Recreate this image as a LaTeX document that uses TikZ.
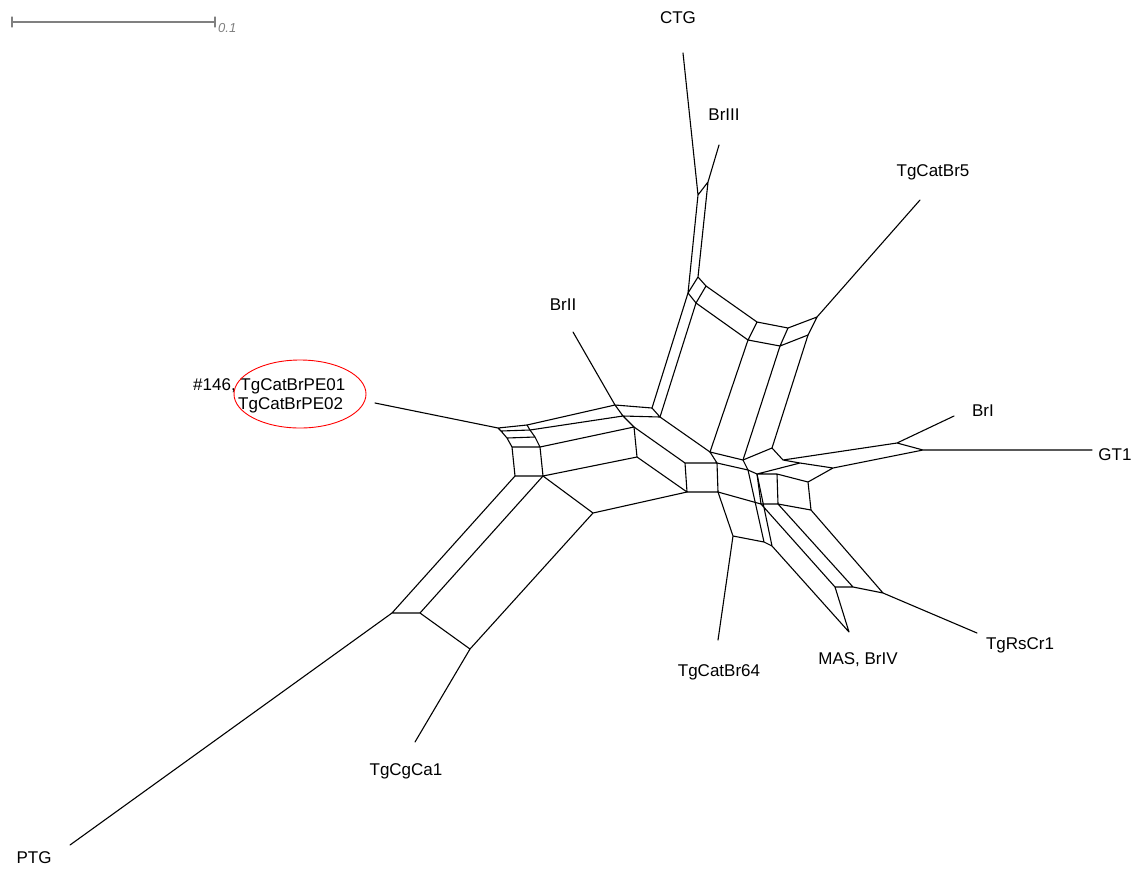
\documentclass[tikz,border=0pt]{standalone}
\usepackage{fontspec}
\setmainfont{Liberation Sans}
\tikzset{
  split/.style={line width=1.1pt, black},
  taxon/.style={inner sep=0pt, font=\fontsize{17}{19}\selectfont}
}
\begin{document}
\begin{tikzpicture}[x=1pt, y=-1pt, line join=round, line cap=round]
  \useasboundingbox (0,0) rectangle (1147,868);

  % scale bar
  \coordinate (s0) at (12,22);
  \coordinate (s1) at (215,22);
  \draw[gray, line width=1.3pt] (s0) -- (s1) ([yshift=-5pt]s0) -- ([yshift=5pt]s0) ([yshift=-5pt]s1) -- ([yshift=5pt]s1);
  \node[anchor=west, inner sep=0pt, gray, font=\fontsize{13}{14}\selectfont\itshape] (bar) at (218,28) {0.1};

  % leaves
  \coordinate (PTG) at (70,845);
  \coordinate (CgCa) at (415,742);
  \coordinate (Br64) at (718,640);
  \coordinate (MAS) at (849,632);
  \coordinate (RsCr) at (977,633);
  \coordinate (GT) at (1092,450);
  \coordinate (BrI) at (954,416);
  \coordinate (Br5) at (920,200);
  \coordinate (CTG) at (683,53);
  \coordinate (BrIII) at (719,145);
  \coordinate (BrII) at (573,332);
  \coordinate (PE) at (375,403);

  % left box
  \coordinate (L0) at (498,428);
  \coordinate (L0b) at (501,431);
  \coordinate (L1) at (507,438);
  \coordinate (L2) at (512,447);
  \coordinate (L3) at (515,476);
  \coordinate (R0) at (527,425);
  \coordinate (R0b) at (530,430);
  \coordinate (R1) at (535,437);
  \coordinate (R2) at (540,447);
  \coordinate (R3) at (543,476);

  % lower left
  \coordinate (Q1) at (392,613);
  \coordinate (Q2) at (420,613);
  \coordinate (Q3) at (470,649);
  \coordinate (Q4) at (593,513);

  % centre
  \coordinate (M0) at (615,405);
  \coordinate (M1) at (623,416);
  \coordinate (M2) at (634,427);
  \coordinate (M3) at (637,457);
  \coordinate (N0) at (652,408);
  \coordinate (N1) at (660,417);

  % top
  \coordinate (S1) at (698,195);
  \coordinate (S2) at (708,182);
  \coordinate (T1) at (698,277);
  \coordinate (T2) at (706,286);
  \coordinate (B1) at (688,293);
  \coordinate (B2) at (696,303);
  \coordinate (U1) at (757,322);
  \coordinate (U2) at (788,328);
  \coordinate (U3) at (817,317);
  \coordinate (V1) at (748,340);
  \coordinate (V2) at (780,346);
  \coordinate (V3) at (808,335);

  % middle right
  \coordinate (K1) at (685,463);
  \coordinate (K2) at (717,463);
  \coordinate (K3) at (687,492);
  \coordinate (K4) at (718,492);
  \coordinate (D1) at (710,452);
  \coordinate (W1) at (743,460);
  \coordinate (W2) at (772,448);
  \coordinate (W3) at (783,460);
  \coordinate (X1) at (748,470);
  \coordinate (G1) at (757,474);
  \coordinate (G2) at (777,474);
  \coordinate (G3) at (761,504);
  \coordinate (G4) at (778,504);
  \coordinate (H1) at (808,482);
  \coordinate (H2) at (811,510);
  \coordinate (Y1) at (800,463);
  \coordinate (Y2) at (833,468);
  \coordinate (J1) at (897,443);
  \coordinate (J2) at (923,450);

  % lower right
  \coordinate (F1) at (733,536);
  \coordinate (F2) at (764,542);
  \coordinate (F3) at (772,546);
  \coordinate (Z1) at (835,587);
  \coordinate (Z2) at (853,587);
  \coordinate (Z3) at (883,593);

  \draw[split] (PE) -- (L0) -- (L0b) -- (L1) -- (L2) -- (L3)
    (R0) -- (R0b) -- (R1) -- (R2) -- (R3)
    (L0) -- (R0) (L0b) -- (R0b) (L1) -- (R1) (L2) -- (R2) (L3) -- (R3);
  \draw[split] (R0) -- (M0) (R0b) -- (M1) (R2) -- (M2) (R3) -- (M3)
    (BrII) -- (M0) -- (M1) -- (M2) -- (M3)
    (M0) -- (N0) -- (N1) -- (M1);
  \draw[split] (PTG) -- (Q1) -- (L3) (Q1) -- (Q2) -- (R3) (Q2) -- (Q3) -- (Q4) -- (R3)
    (CgCa) -- (Q3) (Q4) -- (K3);
  \draw[split] (CTG) -- (S1) -- (S2) -- (BrIII) (S1) -- (B1) -- (T1) -- (S2)
    (T1) -- (T2) -- (B2) -- (B1)
    (T2) -- (U1) -- (U2) -- (U3) -- (Br5)
    (B2) -- (V1) -- (V2) -- (V3) -- (U3) (U1) -- (V1) (U2) -- (V2);
  \draw[split] (N0) -- (B1) (N1) -- (B2) (V1) -- (D1) (V2) -- (W1) (V3) -- (W2);
  \draw[split] (M2) -- (K1) -- (K2) -- (K4) -- (K3) -- (K1) (M3) -- (K3) (N1) -- (D1) -- (K2);
  \draw[split] (D1) -- (W1) -- (W2) -- (W3) -- (J1) -- (BrI) (J1) -- (J2) -- (GT)
    (W3) -- (Y1) -- (Y2) -- (J2) (W1) -- (X1)
    (K2) -- (X1) -- (G1) -- (G2) -- (H1) -- (Y2) (G1) -- (Y1)
    (K4) -- (G3) -- (G4) -- (H2) -- (H1) (G1) -- (G3) (G2) -- (G4);
  \draw[split] (K4) -- (F1) -- (F2) -- (F3) (Br64) -- (F1) (X1) -- (F2) (G1) -- (F3)
    (F3) -- (MAS) -- (Z1) -- (Z2) -- (Z3) -- (RsCr)
    (G3) -- (Z1) (G4) -- (Z2) (H2) -- (Z3);

  % taxa
  \node[taxon] (tCTG) at (678,18) {CTG};
  \node[taxon] (tBrIII) at (724,115) {BrIII};
  \node[taxon] (tBr5) at (933,172) {TgCatBr5};
  \node[taxon] (tBrII) at (563,305) {BrII};
  \node[taxon, anchor=base west] (tPE1) at (193,390) {\#146, TgCatBrPE01};
  \node[taxon, anchor=base west] (tPE2) at (238,409) {TgCatBrPE02};
  \node[taxon] (tBrI) at (983,411) {BrI};
  \node[taxon] (tGT) at (1115,455) {GT1};
  \node[taxon] (tRsCr) at (1020,645) {TgRsCr1};
  \node[taxon] (tMAS) at (858,660) {MAS, BrIV};
  \node[taxon] (tBr64) at (719,672) {TgCatBr64};
  \node[taxon] (tCgCa) at (406,771) {TgCgCa1};
  \node[taxon] (tPTG) at (34,858) {PTG};
  \draw[red, line width=0.9pt] (300,394) ellipse [x radius=66, y radius=34];
\end{tikzpicture}
\end{document}
